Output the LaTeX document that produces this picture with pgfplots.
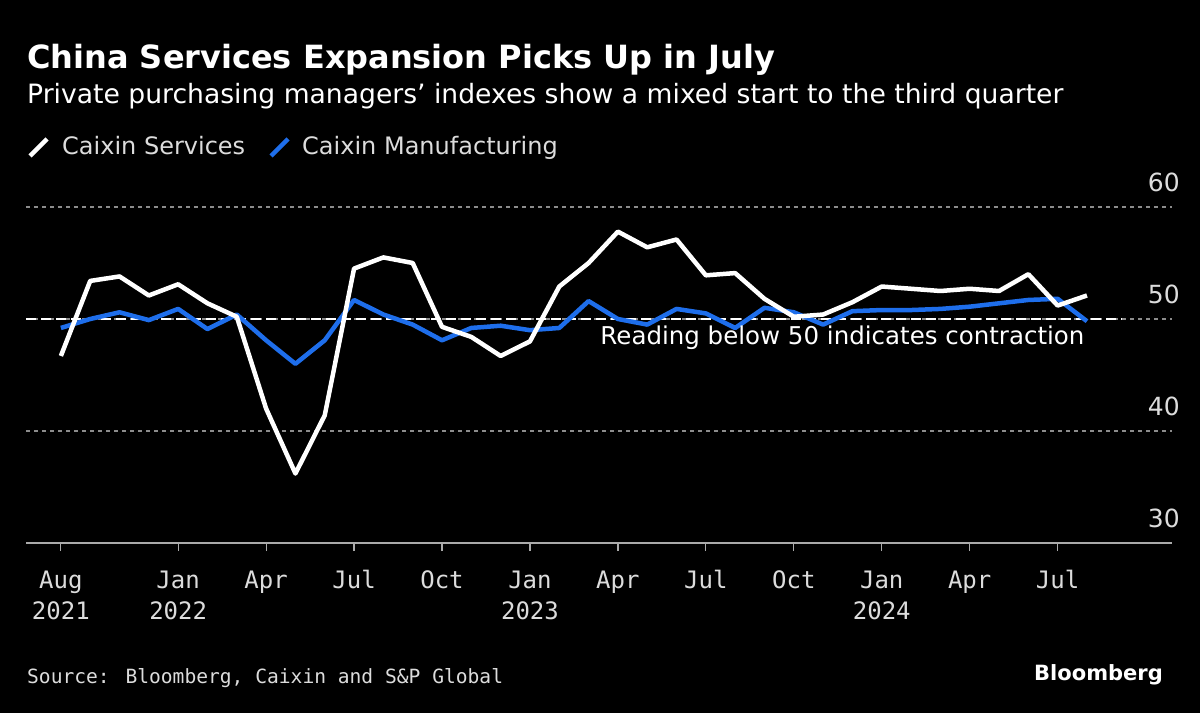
\documentclass[border=0pt]{standalone}
\usepackage{pgfplots}
\pgfplotsset{compat=1.18}
\usepackage{pgfplotstable}
\usepackage{fontspec}
\setmainfont{DejaVu Sans}
\newfontfamily\monof{DejaVu Sans Mono}
\definecolor{bblue}{RGB}{30,110,235}
\definecolor{ltext}{RGB}{220,220,220}
\definecolor{gridc}{RGB}{140,140,140}
\definecolor{axc}{RGB}{170,170,170}
\pgfplotstableread{
x S M
-4 46.7 49.2
-3 53.4 50.0
-2 53.8 50.6
-1 52.1 49.9
0 53.1 50.9
1 51.4 49.1
2 50.2 50.4
3 42.0 48.1
4 36.2 46.0
5 41.4 48.1
6 54.5 51.7
7 55.5 50.4
8 55.0 49.5
9 49.3 48.1
10 48.4 49.2
11 46.7 49.4
12 48.0 49.0
13 52.9 49.2
14 55.0 51.6
15 57.8 50.0
16 56.4 49.5
17 57.1 50.9
18 53.9 50.5
19 54.1 49.2
20 51.8 51.0
21 50.2 50.6
22 50.4 49.5
23 51.5 50.7
24 52.9 50.8
25 52.7 50.8
26 52.5 50.9
27 52.7 51.1
28 52.5 51.4
29 54.0 51.7
30 51.2 51.8
31 52.1 49.8
}\pmi
\begin{document}
\begin{tikzpicture}
\fill[black] (-26bp,-170bp) rectangle (1174bp,543bp);
\begin{axis}[
  at={(0,0)}, anchor=south west,
  scale only axis, width=1146bp, height=336bp,
  xmin=-5.19, xmax=33.9, ymin=30, ymax=60,
  axis line style={draw=none},
  /pgf/number format/assume math mode=true,
  xtick={-4,0,3,6,9,12,15,18,21,24,27,30},
  xticklabels={{Aug\\2021},{Jan\\2022},Apr,Jul,Oct,{Jan\\2023},Apr,Jul,Oct,{Jan\\2024},Apr,Jul},
  xticklabel style={align=center, text=ltext, font=\monof\fontsize{24bp}{31bp}\selectfont, anchor=north, yshift=-16bp},
  x tick style={draw=axc, line width=1.2bp},
  major tick length=8bp,
  tick align=outside,
  xtick pos=bottom,
  ytick={30,40,50,60},
  yticklabel pos=right,
  y tick style={draw=none},
  yticklabel style={anchor=south east, inner sep=0pt, xshift=0bp, yshift=15bp, text=ltext, font=\fontsize{25bp}{25bp}\selectfont},
  ymajorgrids, grid style={draw=gridc, line width=2bp, dash pattern=on 3.5bp off 4.5bp},
  clip=false,
]
\draw[axc, line width=1.5bp] (axis cs:-5.19,30) -- (axis cs:33.9,30);
\draw[white, line width=2.4bp, dash pattern=on 10bp off 5bp] (axis cs:-5.19,50) -- (axis cs:32.2,50);
\addplot[bblue, line width=4.5bp, line join=round] table[x=x,y=M]{\pmi};
\addplot[white, line width=4.5bp, line join=round] table[x=x,y=S]{\pmi};
\node[anchor=base east, text=white, font=\fontsize{24.5bp}{24.5bp}\selectfont, inner sep=0pt] at (axis cs:30.92,47.7) {Reading below 50 indicates contraction};
\end{axis}
\begin{scope}[shift={(-26bp,543bp)}, x=1bp, y=-1bp]
\node[anchor=base west, inner sep=0pt, text=white, font=\fontsize{32bp}{32bp}\selectfont\bfseries] at (27,69) {China Services Expansion Picks Up in July};
\node[anchor=base west, inner sep=0pt, text=white, font=\fontsize{26.6bp}{26.6bp}\selectfont] at (27,104) {Private purchasing managers’ indexes show a mixed start to the third quarter};
\draw[white, line width=4.5bp] (30,156) -- (47,139);
\node[anchor=base west, inner sep=0pt, text=ltext, font=\fontsize{24bp}{24bp}\selectfont] at (62,155) {Caixin Services};
\draw[bblue, line width=4.5bp] (271,156) -- (288,139);
\node[anchor=base west, inner sep=0pt, text=ltext, font=\fontsize{24bp}{24bp}\selectfont] at (302,155) {Caixin Manufacturing};
\node[anchor=base west, inner sep=0pt, text=ltext, font=\monof\fontsize{19.6bp}{19.6bp}\selectfont] at (27,684) {Source: Bloomberg, Caixin and S\&P Global};
\node[anchor=base east, inner sep=0pt, text=white, font=\fontsize{21bp}{21bp}\selectfont\bfseries] at (1163,681) {Bloomberg};
\end{scope}
\end{tikzpicture}
\end{document}
